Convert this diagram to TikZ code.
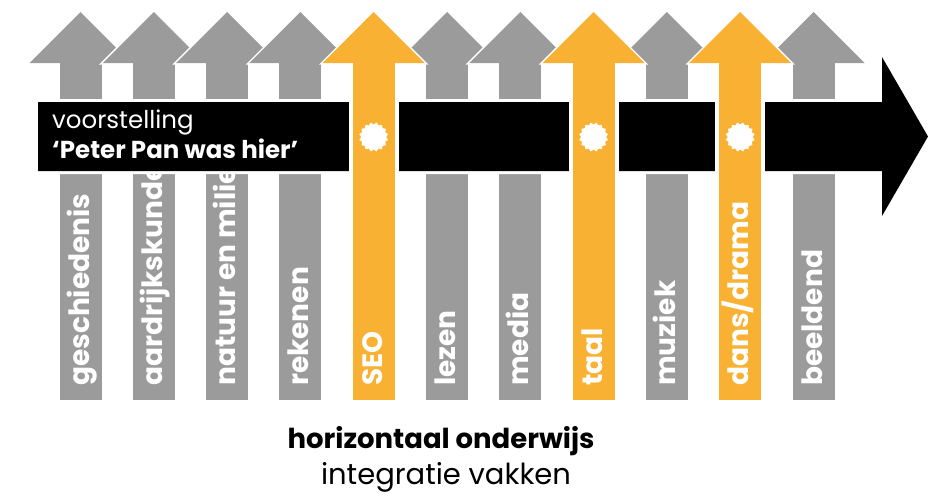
\documentclass[tikz,border=0pt]{standalone}
\usepackage{fontspec}
\setmainfont{Poppins}
\usetikzlibrary{shapes.geometric}
\definecolor{vgray}{HTML}{9B9B9B}
\definecolor{vorange}{HTML}{F8B133}
\tikzset{
  vaktext/.style={white, rotate=90, anchor=base west, inner sep=0pt, font=\fontsize{28}{28}\selectfont\bfseries},
  dot/.style={star, star points=16, star point ratio=0.85, fill=white, minimum size=25pt, inner sep=0pt},
  headline/.style={draw=white, line width=3pt},
  bandtext/.style={white, anchor=base west, inner sep=0pt},
}
\newcommand\vakhead[2]{%
  \draw[headline] ({#1-51},63) -- (#1,12) -- ({#1+51},63) -- cycle;
  \fill[#2] ({#1-21},63) rectangle ({#1+21},400);
  \fill[#2] ({#1-51},63) -- (#1,12) -- ({#1+51},63) -- cycle;
}
\begin{document}
\begin{tikzpicture}[x=1pt,y=-1pt]
\useasboundingbox (0,0) rectangle (928,496);
% grey arrows
\foreach \i/\t in {0/geschiedenis,1/aardrijkskunde,2/natuur en milieu,3/rekenen,5/lezen,6/media,8/muziek,10/beeldend}{
  \pgfmathsetmacro\cx{80.5+73.3*\i}
  \vakhead{\cx}{vgray}
  \begin{scope}
    \clip (0,174) rectangle (928,400);
    \node[vaktext] (g\i) at ({\cx+8.5},386) {\t};
  \end{scope}
}
% black band arrow
\fill[black, preaction={draw=white, line width=6pt}]
  (38,102) -- (882,102) -- (882,57) -- (928,136.5) -- (882,216) -- (882,171) -- (38,171) -- cycle;
\node[bandtext, font=\fontsize{24.5}{24.5}\selectfont] (vs) at (52,128) {voorstelling};
\node[bandtext, font=\fontsize{24.5}{24.5}\selectfont\bfseries] (pp) at (52,158) {‘Peter Pan was hier’};
% orange arrows
\foreach \i/\t in {4/SEO,7/taal,9/{dans/drama}}{
  \pgfmathsetmacro\cx{80.5+73.3*\i}
  \fill[white] ({\cx-25},60) rectangle ({\cx+25},400);
  \vakhead{\cx}{vorange}
  \node[vaktext] (o\i) at ({\cx+8.5},386) {\t};
  \node[dot] (d\i) at (\cx,137) {};
}
% caption
\node[anchor=base, inner sep=0pt, font=\fontsize{27.5}{27.5}\selectfont\bfseries] (h) at (441,448) {horizontaal onderwijs};
\node[anchor=base, inner sep=0pt, font=\fontsize{29}{29}\selectfont] (iv) at (446,484) {integratie vakken};
\end{tikzpicture}
\end{document}
